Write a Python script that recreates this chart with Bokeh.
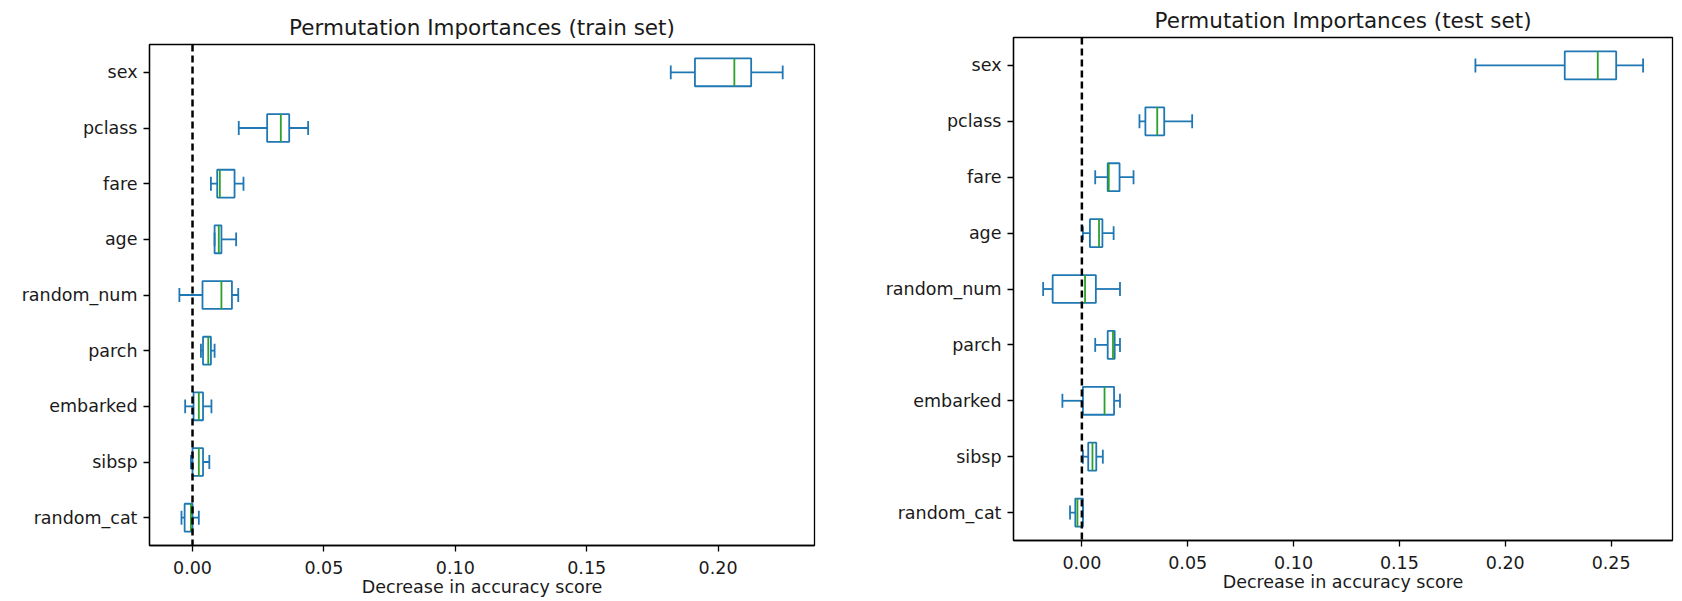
from bokeh.plotting import figure
from bokeh.models import ColumnDataSource, FactorRange, Range1d, Span, FixedTicker, PrintfTickFormatter
from bokeh.layouts import row, column
from bokeh.transform import dodge
from bokeh.embed import file_html
from bokeh.resources import INLINE

features = ["sex", "pclass", "fare", "age", "random_num", "parch", "embarked", "sibsp", "random_cat"]

train_lo  = [0.1820, 0.0176, 0.0070, 0.0084, -0.0050, 0.0032, -0.0028, -0.0006, -0.0042]
train_q1  = [0.1912, 0.0284, 0.0094, 0.0084, 0.0038, 0.0040, 0.0004, 0.0000, -0.0030]
train_med = [0.2062, 0.0336, 0.0104, 0.0100, 0.0110, 0.0060, 0.0024, 0.0024, -0.0006]
train_q3  = [0.2126, 0.0368, 0.0160, 0.0110, 0.0150, 0.0070, 0.0040, 0.0040, 0.0000]
train_hi  = [0.2246, 0.0440, 0.0194, 0.0166, 0.0174, 0.0084, 0.0072, 0.0064, 0.0024]

test_lo  = [0.1859, 0.0272, 0.0063, 0.0005, -0.0183, 0.0063, -0.0092, 0.0005, -0.0056]
test_q1  = [0.2281, 0.0300, 0.0122, 0.0038, -0.0138, 0.0122, 0.0005, 0.0030, -0.0031]
test_med = [0.2437, 0.0356, 0.0127, 0.0081, 0.0015, 0.0147, 0.0107, 0.0050, -0.0021]
test_q3  = [0.2524, 0.0389, 0.0178, 0.0097, 0.0066, 0.0155, 0.0152, 0.0068, 0.0005]
test_hi  = [0.2651, 0.0521, 0.0244, 0.0150, 0.0180, 0.0180, 0.0180, 0.0099, 0.0005]

train_ticks = [0.0, 0.05, 0.10, 0.15, 0.20]
test_ticks = [0.0, 0.05, 0.10, 0.15, 0.20, 0.25]

titles = ["Permutation Importances (train set)", "Permutation Importances (test set)"]
xlabel = "Decrease in accuracy score"

BLUE = "#1f77b4"
GREEN = "#2ca02c"
FONT = "DejaVu Sans"
TXT = "#1a1a1a"


def make_plot(title, lo, q1, med, q3, hi, ticks, xr, border_left, frame_w, border_right,
              border_top, frame_h, border_bottom):
    src = ColumnDataSource(dict(feature=features, lo=lo, q1=q1, med=med, q3=q3, hi=hi))
    p = figure(y_range=FactorRange(factors=features[::-1]), x_range=Range1d(*xr),
               frame_width=frame_w, frame_height=frame_h,
               min_border_left=border_left, min_border_right=border_right,
               min_border_top=border_top, min_border_bottom=border_bottom,
               output_backend="svg", toolbar_location=None, title=title)
    p.title.align = "center"
    p.title.text_font = FONT
    p.title.text_font_size = "21.5px"
    p.title.text_font_style = "normal"
    p.title.text_color = TXT
    p.title.standoff = 10

    p.hbar(y="feature", left="q1", right="q3", height=0.5, fill_color=None,
           line_color=BLUE, line_width=1.8, source=src)
    p.segment(x0="lo", y0="feature", x1="q1", y1="feature", line_color=BLUE, line_width=1.8, source=src)
    p.segment(x0="q3", y0="feature", x1="hi", y1="feature", line_color=BLUE, line_width=1.8, source=src)
    for col in ("lo", "hi"):
        p.segment(x0=col, y0=dodge("feature", -0.125, range=p.y_range),
                  x1=col, y1=dodge("feature", 0.125, range=p.y_range),
                  line_color=BLUE, line_width=1.8, source=src)
    p.segment(x0="med", y0=dodge("feature", -0.25, range=p.y_range),
              x1="med", y1=dodge("feature", 0.25, range=p.y_range),
              line_color=GREEN, line_width=1.8, source=src)

    p.add_layout(Span(location=0, dimension="height", line_color="black",
                      line_width=2.5, line_dash="7 4"))

    p.xgrid.visible = False
    p.ygrid.visible = False
    p.outline_line_color = "black"
    p.outline_line_width = 1.3
    p.outline_line_alpha = 1.0

    p.xaxis.ticker = FixedTicker(ticks=ticks)
    p.xaxis.formatter = PrintfTickFormatter(format="%.2f")
    p.xaxis.axis_label = xlabel
    for ax in (p.xaxis[0], p.yaxis[0]):
        ax.axis_line_color = "black"
        ax.axis_line_width = 1.3
        ax.major_tick_line_color = "black"
        ax.major_tick_line_width = 1.3
        ax.major_tick_out = 6
        ax.major_tick_in = 0
        ax.minor_tick_line_color = None
        ax.major_label_text_font = FONT
        ax.major_label_text_font_size = "17.5px"
        ax.major_label_text_color = TXT
        ax.major_label_standoff = 5
        ax.axis_label_text_font = FONT
        ax.axis_label_text_font_size = "17.5px"
        ax.axis_label_text_font_style = "normal"
        ax.axis_label_text_color = TXT
        ax.axis_label_standoff = 5
    p.xaxis.major_label_standoff = 9
    p.xaxis.axis_label_standoff = 0
    p.yaxis.major_label_standoff = 6
    return p


p1 = make_plot(titles[0], train_lo, train_q1, train_med, train_q3, train_hi, train_ticks,
               (-0.01637, 0.2367), 149, 665, 26, 44, 501, 56)
p2 = make_plot(titles[1], test_lo, test_q1, test_med, test_q3, test_hi, test_ticks,
               (-0.0323, 0.279), 173, 659, 10, 37, 503, 61)

layout = row(column(p1), column(p2))
open("out.html", "w").write(file_html(layout, INLINE))
